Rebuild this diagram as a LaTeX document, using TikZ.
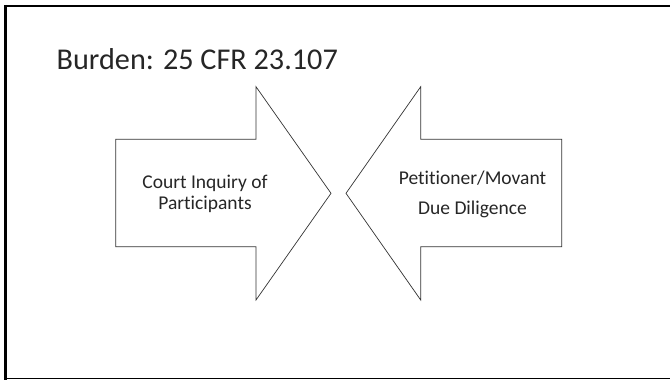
\documentclass[tikz,border=0pt]{standalone}
\usepackage{fontspec}
\setmainfont{Carlito}[Ligatures=NoCommon]
\definecolor{ink}{HTML}{262626}
\begin{document}
\begin{tikzpicture}[x=1pt,y=-1pt,
  frame/.style={draw=black,line width=2.4pt},
  arrowshape/.style={draw=black!80,line width=0.7pt,line join=miter,fill=white},
  label/.style={text=ink,font=\fontsize{19.5}{22}\selectfont,inner sep=0pt,anchor=base},
  heading/.style={text=ink,font=\fontsize{30.2}{34}\selectfont,inner sep=0pt,anchor=base west}]
  \useasboundingbox (0,0) rectangle (670,380);
  \fill[white] (0,0) rectangle (670,380);

  % slide frame: heavy top and left rules, thin bottom rule
  \draw[frame] (4,6) -- (670,6);
  \draw[frame] (5.3,4.8) -- (5.3,380);
  \draw[black,line width=1pt] (4,378.5) -- (670,378.5);

  % title
  \node[heading] (title) at (56.5,69.3) {Burden: 25 CFR 23.107};

  % right-pointing block arrow
  \draw[arrowshape] (115.7,139.3) -- (256,139.3) -- (256,86.7) -- (331,193.3)
    -- (256,300) -- (256,246.7) -- (115.7,246.7) -- cycle;
  % left-pointing block arrow
  \draw[arrowshape] (561.7,139.3) -- (420.7,139.3) -- (420.7,86.7) -- (346,193.3)
    -- (420.7,300) -- (420.7,246.7) -- (561.7,246.7) -- cycle;

  % arrow texts
  \node[label] (court)   at (205,188)   {Court Inquiry of};
  \node[label] (partic)  at (205,209.5) {Participants};
  \node[label] (petit)   at (472.5,184.5) {Petitioner/Movant};
  \node[label] (diligen) at (472.5,214.5) {Due Diligence};
\end{tikzpicture}
\end{document}
